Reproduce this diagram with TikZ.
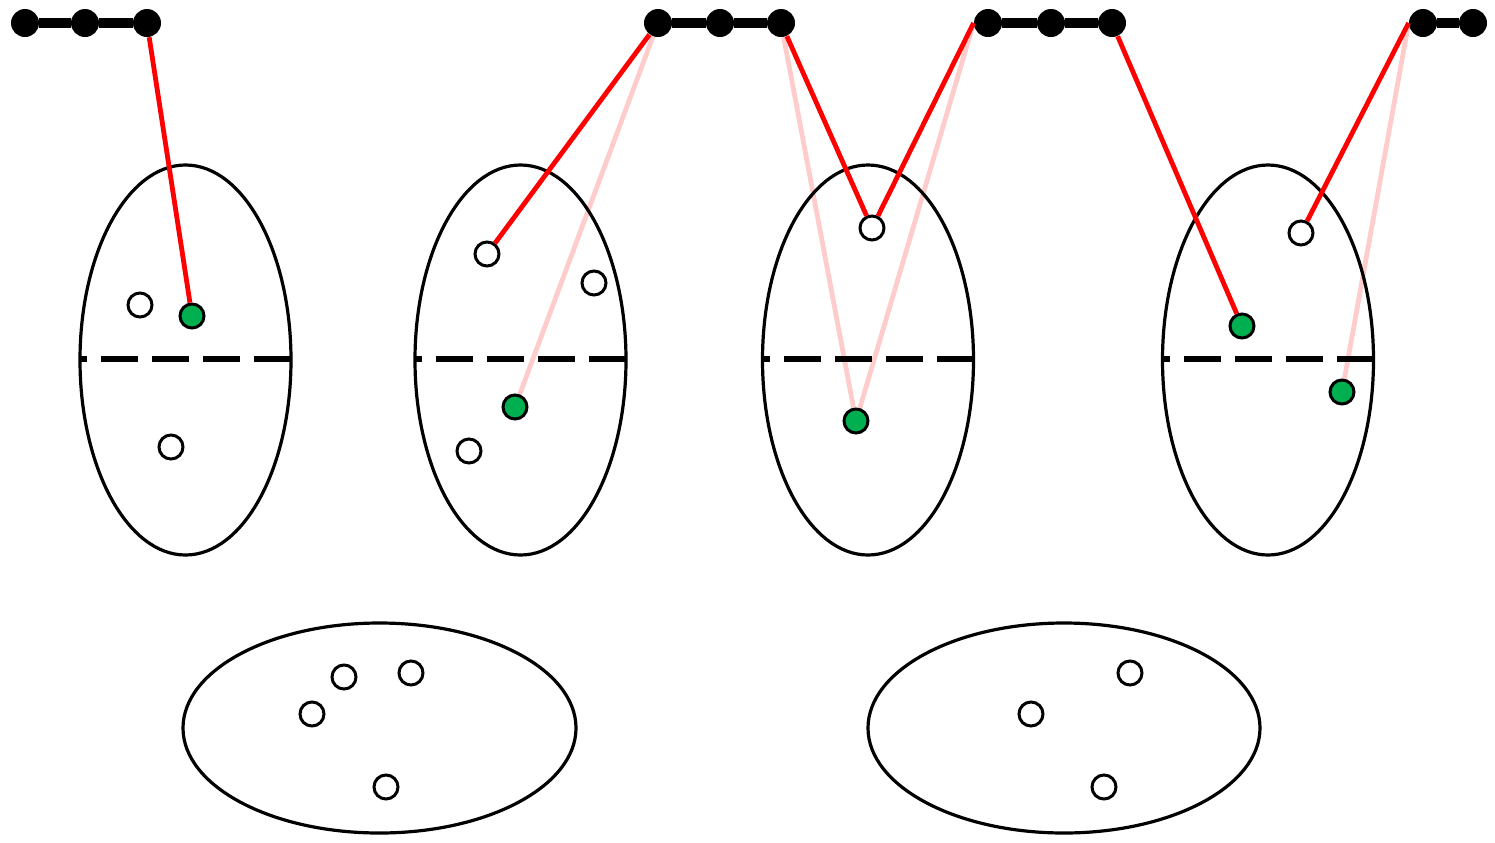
\documentclass[tikz,border=0pt]{standalone}
\usepackage{tikz}
\usetikzlibrary{backgrounds}
\definecolor{hitgreen}{RGB}{0,176,80}
\tikzset{
  dot/.style={circle,fill=black,inner sep=0pt,minimum size=14pt},
  pt/.style={circle,draw,line width=1.5pt,fill=white,inner sep=0pt,minimum size=12pt},
  hit/.style={pt,fill=hitgreen},
  link/.style={red,line width=2.4pt},
  ghost/.style={red!20,line width=2.4pt},
  cut/.style={line width=2.6pt,dash pattern=on 18.5pt off 7pt},
  bar/.style={line width=5pt}
}

\begin{document}
\begin{tikzpicture}[x=0.5pt,y=-0.5pt]
\useasboundingbox (0,0) rectangle (1495,842);
% upright sets with cut
\foreach \cx in {185.5,520.5,868,1268} {
  \draw[line width=1.6pt] (\cx,360) ellipse [x radius=52.75pt, y radius=97.5pt];
  \draw[cut] (\cx+105.5,359) -- (\cx-105.5,359);
}
% lying sets
\draw[line width=1.6pt] (379.5,728) ellipse [x radius=98.25pt, y radius=52.5pt];
\draw[line width=1.6pt] (1064,728) ellipse [x radius=98pt, y radius=52.5pt];
% chain
\node[dot] (a1) at (25,23) {};
\node[dot] (a2) at (85,23) {};
\node[dot] (a3) at (147,23) {};
\node[dot] (b1) at (658,23) {};
\node[dot] (b2) at (720,23) {};
\node[dot] (b3) at (781,23) {};
\node[dot] (c1) at (988,23) {};
\node[dot] (c2) at (1051,23) {};
\node[dot] (c3) at (1112,23) {};
\node[dot] (d1) at (1423,23) {};
\node[dot] (d2) at (1473,23) {};
\draw[bar] (a1) -- (a2) -- (a3);
\draw[bar] (b1) -- (b2) -- (b3);
\draw[bar] (c1) -- (c2) -- (c3);
\draw[bar] (d1) -- (d2);
% points
\node[pt] (p1) at (140,305) {};
\node[hit] (g1) at (192,316) {};
\node[pt] (p2) at (171,447) {};
\node[pt] (p3) at (487,254) {};
\node[pt] (p4) at (594,283) {};
\node[hit] (g2) at (515,407) {};
\node[pt] (p5) at (469,451) {};
\node[pt] (p6) at (872,228) {};
\node[hit] (g3) at (856,421) {};
\node[pt] (p7) at (1301,233) {};
\node[hit] (g4) at (1242,326) {};
\node[hit] (g5) at (1342,392) {};
\node[pt] (q1) at (344,677) {};
\node[pt] (q2) at (411,673) {};
\node[pt] (q3) at (312,714) {};
\node[pt] (q4) at (386,787) {};
\node[pt] (q5) at (1130,673) {};
\node[pt] (q6) at (1031,714) {};
\node[pt] (q7) at (1104,787) {};
% links
\begin{scope}[on background layer]
\draw[ghost] (b1) -- (g2);
\draw[ghost] (b3) -- (g3);
\draw[ghost] (c1.west) -- (g3);
\draw[ghost] (d1.west) -- (g5);
\end{scope}
\draw[link] (a3) -- (g1);
\draw[link] (b1) -- (p3);
\draw[link] (b3) -- (p6);
\draw[link] (c1.west) -- (p6);
\draw[link] (c3) -- (g4);
\draw[link] (d1.west) -- (p7);
\end{tikzpicture}
\end{document}
